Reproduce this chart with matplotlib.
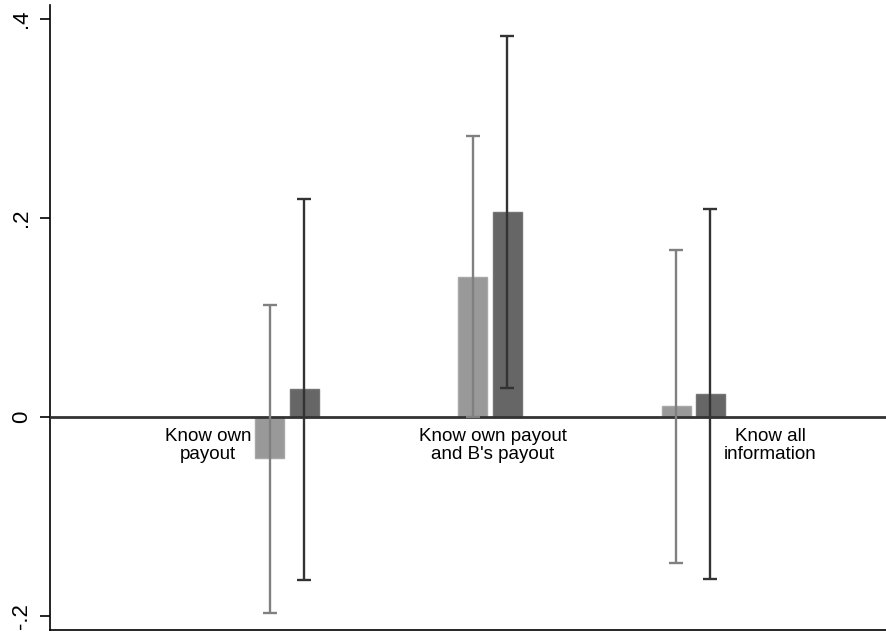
import numpy as np
import matplotlib.pyplot as plt

plt.rcParams["font.family"] = ["Liberation Sans", "DejaVu Sans"]

# Categorías y estimaciones (dos grupos por categoría)
categorias = ["Know own\npayout", "Know own payout\nand B's payout", "Know all\ninformation"]
coef_claro = [-0.041, 0.141, 0.011]
ci_claro_inf = [-0.197, 0.000, -0.147]
ci_claro_sup = [0.113, 0.282, 0.168]
coef_oscuro = [0.028, 0.206, 0.023]
ci_oscuro_inf = [-0.164, 0.029, -0.163]
ci_oscuro_sup = [0.219, 0.383, 0.209]
yticks = [-0.2, 0.0, 0.2, 0.4]
ytick_labels = ["-.2", "0", ".2", ".4"]

x = np.arange(1, len(categorias) + 1)
ancho = 0.143
desp = 0.084

fig = plt.figure(figsize=(8.86, 6.33), dpi=100)
ax = fig.add_axes([50 / 886, 3 / 633, 836 / 886, 625 / 633])

ax.bar(x - desp, coef_claro, width=ancho, color="#999999", edgecolor="#a8a8a8", linewidth=1, zorder=2)
ax.bar(x + desp, coef_oscuro, width=ancho, color="#666666", edgecolor="#747474", linewidth=1, zorder=2)

ax.axhline(0, color="#333333", linewidth=2, zorder=3)

c = np.array(coef_claro)
o = np.array(coef_oscuro)
ax.errorbar(x - desp, c, yerr=[c - np.array(ci_claro_inf), np.array(ci_claro_sup) - c],
            fmt="none", ecolor="#808080", elinewidth=1.7, capsize=5.2, capthick=1.7, zorder=4)
ax.errorbar(x + desp, o, yerr=[o - np.array(ci_oscuro_inf), np.array(ci_oscuro_sup) - o],
            fmt="none", ecolor="#333333", elinewidth=1.7, capsize=5.2, capthick=1.7, zorder=4)

# Etiquetas de cada categoría junto a la línea de cero
pos_etiquetas = [(0.61, -0.029), (2.015, -0.029), (3.38, -0.029)]
for (px, py), txt in zip(pos_etiquetas, categorias):
    ax.text(px, py, txt, ha="center", va="center", fontsize=13.5, linespacing=1.08, zorder=5)

ax.set_xlim(-0.167, 3.95)
ax.set_ylim(-0.214, 0.414)
ax.set_yticks(yticks)
ax.set_yticklabels(ytick_labels, rotation=90, va="center", fontsize=16)
ax.set_xticks([])
ax.tick_params(axis="y", length=7, width=1.2, pad=6)

ax.spines["top"].set_visible(False)
ax.spines["right"].set_visible(False)
ax.spines["left"].set_linewidth(1.2)
ax.spines["bottom"].set_linewidth(1.2)

fig.savefig("out.png", dpi=100)
